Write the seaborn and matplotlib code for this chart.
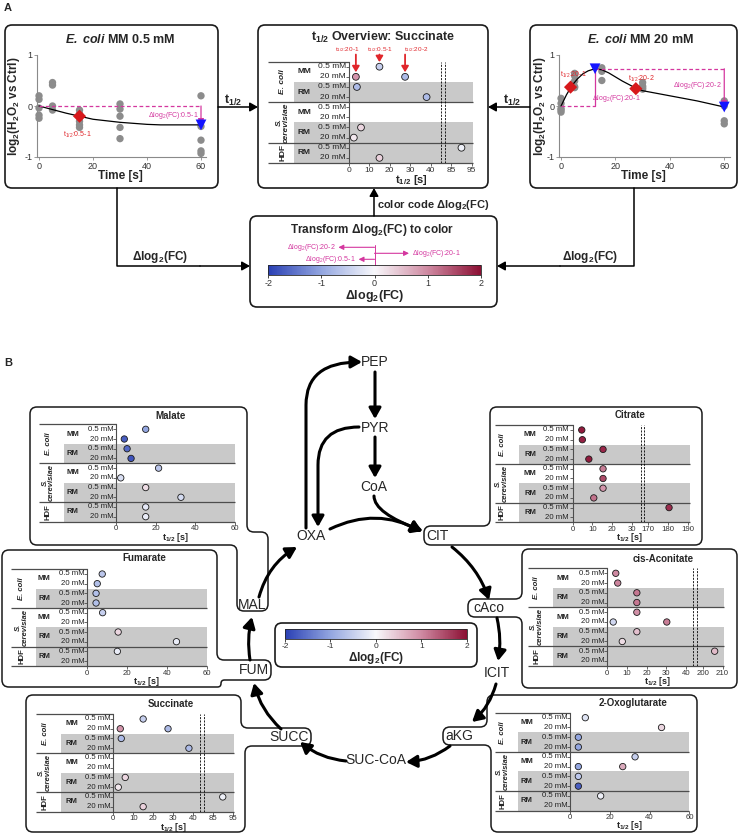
import numpy as np
import pandas as pd
import seaborn as sns
import matplotlib
matplotlib.use("Agg")
import matplotlib.pyplot as plt
from matplotlib.path import Path
from matplotlib.patches import PathPatch, FancyArrowPatch
from matplotlib.colors import LinearSegmentedColormap, Normalize
from matplotlib.cm import ScalarMappable

sns.set_style("white")
plt.rcParams["font.family"] = ["Liberation Sans", "DejaVu Sans"]
plt.rcParams["mathtext.fontset"] = "custom"
plt.rcParams["mathtext.rm"] = "Liberation Sans"
plt.rcParams["mathtext.bf"] = "Liberation Sans:bold"
plt.rcParams["mathtext.it"] = "Liberation Sans:italic"
plt.rcParams["mathtext.bfit"] = "Liberation Sans:italic:bold"
plt.rcParams["mathtext.default"] = "regular"
plt.rcParams["axes.unicode_minus"] = False

# ---------------- data ----------------
# panel A: E. coli MM 0.5 mM time course
t_05 = [0, 0, 0, 0, 0, 5, 5, 5, 5, 15, 15, 15, 15, 15, 30, 30, 30, 30, 30, 60, 60, 60, 60, 60]
y_05 = [0.2, 0.13, -0.04, -0.18, -0.24, 0.46, 0.41, 0.0, -0.08, -0.08, -0.15, -0.3, -0.37, -0.42,
        0.04, -0.06, -0.2, -0.42, -0.64, 0.2, -0.4, -0.67, -0.88, -0.93]
fit_t_05 = [0, 5, 10, 15, 20, 25, 30, 35, 40, 45, 50, 55, 60]
fit_y_05 = [0, -0.07, -0.14, -0.2, -0.26, -0.29, -0.32, -0.34, -0.36, -0.37, -0.37, -0.37, -0.37]
half_t_05 = [15]
half_y_05 = [-0.2]
ext_t_05 = [60]
ext_y_05 = [-0.37]

# panel A: E. coli MM 20 mM time course
t_20 = [0, 0, 0, 0, 0, 5, 5, 5, 5, 5, 15, 15, 15, 30, 30, 30, 30, 60, 60, 60, 60]
y_20 = [0.15, 0.05, -0.05, -0.08, -0.12, 0.64, 0.59, 0.49, 0.38, 0.36, 0.75, 0.68, 0.5,
        0.46, 0.39, 0.36, 0.33, 0.1, 0.0, -0.29, -0.35]
fit_t_20 = [0, 2, 4, 6, 8, 10, 12.5, 15, 17.5, 20, 22.5, 25, 27.5, 30, 35, 40, 45, 50, 55, 60]
fit_y_20 = [0, 0.22, 0.4, 0.53, 0.63, 0.69, 0.73, 0.71, 0.65, 0.57, 0.49, 0.42, 0.35, 0.3,
            0.25, 0.2, 0.15, 0.1, 0.04, -0.02]
half_t_20 = [3.5, 27.5]
half_y_20 = [0.37, 0.34]
ext_t_20 = [12.5, 60]
ext_y_20 = [0.73, -0.02]

# delta log2(FC) arrows drawn over the colour bar
cb_delta = [-0.68, 0.65, -0.3]
cb_delta_lbl = ["20-2", "20-1", "0.5-1"]

# overview rows: 0 Ec MM 0.5, 1 Ec MM 20, 2 Ec RM 0.5, 3 Ec RM 20, 4 Sc MM 0.5,
# 5 Sc MM 20, 6 Sc RM 0.5, 7 Sc RM 20, 8 HDF RM 0.5, 9 HDF RM 20
conc_lbl = ["0.5 mM", "20 mM"] * 5
medium_lbl = ["MM", "RM", "MM", "RM", "RM"]
medium_row = [0.5, 2.5, 4.5, 6.5, 8.5]
org_lbl = ["E. coli", "S.\ncerevisiae", "HDF"]
org_row = [1.5, 5.5, 8.5]

succ_row = [0, 1, 1, 2, 3, 6, 7, 8, 9]
succ_t = [15, 3.5, 27.5, 4, 38, 6, 2.5, 90, 15]
succ_d = [-0.5, 0.9, -0.75, -0.75, -0.75, 0.3, 0.15, -0.1, 0.35]
succ_ann_t = [3.5, 15, 27.5]
succ_ann_row = [1, 0, 1]
succ_ann_lbl = ["20-1", "0.5-1", "20-2"]

mal_row = [0, 1, 2, 3, 4, 5, 6, 7, 8, 9]
mal_t = [15, 4.2, 5.6, 7.6, 21.5, 2.4, 15, 32.8, 15, 15]
mal_d = [-1.0, -1.7, -1.6, -1.8, -0.6, -0.3, 0.25, -0.35, -0.2, -0.15]

fum_row = [0, 1, 2, 3, 4, 6, 7, 8]
fum_t = [7.5, 5, 4.4, 4.4, 7.7, 15.5, 44.8, 15.1]
fum_d = [-0.6, -0.7, -0.7, -0.7, -0.5, 0.3, -0.15, -0.15]

cit_row = [0, 1, 2, 3, 4, 5, 6, 7, 8]
cit_t = [4.7, 5, 15.5, 8.3, 15.5, 15.5, 15.5, 10.8, 180.5]
cit_d = [1.9, 1.85, 1.8, 1.9, 1.1, 1.5, 0.9, 1.2, 1.75]

aco_row = [0, 1, 2, 3, 4, 5, 5, 6, 7, 8]
aco_t = [4.3, 5.3, 15, 15, 15, 3, 30.2, 15, 7.6, 206]
aco_d = [1.0, 1.05, 1.15, 1.15, 0.95, -0.4, 1.1, 0.5, 0.25, 0.55]

akg_row = [0, 1, 2, 3, 4, 5, 5, 6, 7, 8]
akg_t = [7.7, 46, 4.2, 4.2, 32.7, 4.2, 26.5, 4.2, 4.2, 15.4]
akg_d = [-0.25, 0.3, -1.0, -1.0, -0.5, -1.0, 0.7, -0.6, -1.7, -0.1]

# ---------------- styling ----------------
W, H = 740, 834
cmap = LinearSegmentedColormap.from_list(
    "fc", ["#2a40b4", "#93a6e0", "#f8f8fb", "#cf8aa2", "#8c1034"])
RED = "#e0262b"
MAG = "#d4379f"
LINE = "#4d4d4d"
SHADE = "#c9c9c9"

fig = plt.figure(figsize=(W / 100, H / 100), dpi=100)
bg = fig.add_axes([0, 0, 1, 1])
bg.set_xlim(0, W)
bg.set_ylim(H, 0)
bg.axis("off")


def add_ax(x0, y0, x1, y1):
    ax = fig.add_axes([x0 / W, 1 - y1 / H, (x1 - x0) / W, (y1 - y0) / H])
    ax.set_facecolor("none")
    return ax


def rpath(pts, r=7):
    P = np.array(pts, float)
    n = len(P)
    verts, codes = [], []
    for i in range(n):
        p, a, b = P[i], P[i - 1], P[(i + 1) % n]
        da, db = a - p, b - p
        la, lb = np.hypot(*da), np.hypot(*db)
        rr = min(r, la / 2, lb / 2)
        verts += [p + da / la * rr, p, p + db / lb * rr]
        codes += [Path.LINETO if i else Path.MOVETO, Path.CURVE3, Path.CURVE3]
    verts.append(verts[0])
    codes.append(Path.CLOSEPOLY)
    return Path(verts, codes)


def outline(pts, lw=1.1):
    bg.add_patch(PathPatch(rpath(pts), fc="none", ec="#1a1a1a", lw=lw, zorder=1))


def arrow(p0, p1, cs="arc3,rad=0", lw=2.2, ms=8, color="k"):
    bg.add_patch(FancyArrowPatch(p0, p1, arrowstyle="-|>,head_length=0.8,head_width=0.45",
                                 mutation_scale=ms, lw=lw, color=color, connectionstyle=cs,
                                 shrinkA=0, shrinkB=0, zorder=5))


def path_arrow(verts, codes, lw=2.2, ms=8):
    bg.add_patch(FancyArrowPatch(path=Path(verts, codes),
                                 arrowstyle="-|>,head_length=0.8,head_width=0.45",
                                 mutation_scale=ms, lw=lw, color="k", zorder=5))


def overview(g, rows, ts, ds, ticks, knots=None, dashes=(), fs=5.6, s=21):
    top = g["r0"] - 0.5 * g["sp"]
    bot = g["r0"] + 9.5 * g["sp"]
    right = g["x0"] + g["xmax"] * g["sc"]
    ax = add_ax(g["left"], top, right, bot)
    if knots:
        kr, kd = knots
        fwd = lambda x: np.interp(x, kr, kd)
        inv = lambda y: np.interp(y, kd, kr)
        ax.set_xscale("function", functions=(fwd, inv))
    else:
        inv = lambda y: y
    px = lambda p: (p - g["x0"]) / g["sc"]
    xl, xr = px(g["left"]), float(inv(g["xmax"]))

    for a, b in [(1.5, 3.5), (5.5, 7.5), (7.5, 9.5)]:
        ax.fill_between([px(g["shade"]), xr], a, b, color=SHADE, lw=0, zorder=0)
    ax.hlines([3.5, 7.5, 9.5], xl, xr, color=LINE, lw=0.9, zorder=1, clip_on=False)
    ax.hlines(-0.5, xl, 0, color=LINE, lw=0.9, zorder=1, clip_on=False)
    for d in dashes:
        ax.axvline(float(inv(d)), color="k", lw=0.6, ls=(0, (2.5, 1.5)), zorder=1)

    df = pd.DataFrame({"t": ts, "row": rows, "d": ds})
    sns.scatterplot(data=df, x="t", y="row", hue="d", palette=cmap, hue_norm=(-2, 2),
                    s=s, edgecolor="#1a1a1a", linewidth=0.6, legend=False, ax=ax,
                    zorder=4, clip_on=False)
    ax.set(xlabel="", ylabel="")
    ax.set_xlim(xl, xr)
    ax.set_ylim(9.5, -0.5)

    for sp_name in ["top", "right", "bottom"]:
        ax.spines[sp_name].set_visible(False)
    ax.spines["left"].set_position(("data", 0))
    ax.spines["left"].set_bounds(-0.5, 9.5)
    ax.spines["left"].set_color(LINE)
    ax.spines["left"].set_linewidth(0.8)
    ax.set_yticks(range(10))
    ax.set_xticks(ticks)
    ax.set_xticklabels([str(t) for t in ticks])
    ax.tick_params(axis="y", left=True, length=2, width=0.6, color=LINE, labelleft=False)
    ax.tick_params(axis="x", bottom=True, length=2, width=0.6, color=LINE, pad=0.8,
                   labelsize=fs, labelcolor="#333333")

    for i, c in enumerate(conc_lbl):
        ax.text(px(g["conc"]), i, c, ha="right", va="center", fontsize=fs, color="#222222")
    for m, r in zip(medium_lbl, medium_row):
        ax.text(px(g["mm"]), r, m, ha="center", va="center", fontsize=fs, weight="bold")
    for o, r in zip(org_lbl, org_row):
        ax.text(px(g["org"]), r, o, ha="center", va="center", fontsize=fs, weight="bold",
                rotation=90, style="normal" if o == "HDF" else "italic", linespacing=0.9)

    bg.text(*g["title_xy"], g["title"], ha="center", va="center", fontsize=g.get("tfs", 7),
            weight="bold")
    bg.text(*g["xlab_xy"], "t$_\\mathbf{1/2}$ [s]", ha="center", va="center",
            fontsize=g.get("lfs", 6.5), weight="bold")
    return ax


def timecourse(box, t, y, ft, fy, ht, hy, et, ey):
    ax = add_ax(*box)
    sns.scatterplot(x=t, y=y, color="#8c8c8c", s=28, edgecolor="none", ax=ax, zorder=2,
                    clip_on=False)
    sns.lineplot(x=ft, y=fy, color="k", lw=0.9, ax=ax, zorder=3)
    sns.scatterplot(x=ht, y=hy, marker="D", color="#d7191c", s=45, edgecolor="none", ax=ax,
                    zorder=6, clip_on=False)
    sns.scatterplot(x=et, y=ey, marker="v", color="#1414ff", s=60, edgecolor="none", ax=ax,
                    zorder=6, clip_on=False)
    ax.set_xlim(-0.6, 62)
    ax.set_ylim(-1, 1)
    ax.set_xticks([0, 20, 40, 60])
    ax.set_yticks([-1, 0, 1])
    ax.set(xlabel="", ylabel="")
    for s_ in ["top", "right"]:
        ax.spines[s_].set_visible(False)
    for s_ in ["left", "bottom"]:
        ax.spines[s_].set_color("#8a8a8a")
        ax.spines[s_].set_linewidth(0.8)
    ax.tick_params(left=True, bottom=True, length=2, width=0.6, color="#8a8a8a", pad=1.5,
                   labelsize=6.5, labelcolor="#333333")
    return ax


# ---------------- panel A ----------------
bg.text(4, 8, "A", fontsize=8, weight="bold", va="center")
for pts in [[(5, 25), (218, 25), (218, 188), (5, 188)],
            [(258, 25), (488, 25), (488, 188), (258, 188)],
            [(530, 25), (737, 25), (737, 188), (530, 188)],
            [(250, 216), (497, 216), (497, 307), (250, 307)]]:
    outline(pts, lw=1.2)

ax1 = timecourse((37.4, 55, 206.4, 157), t_05, y_05, fit_t_05, fit_y_05,
                 half_t_05, half_y_05, ext_t_05, ext_y_05)
ax1.plot([0, ext_t_05[0]], [0, 0], ls=(0, (3, 2)), color=MAG, lw=0.9, zorder=4)
ax1.annotate("", xy=(ext_t_05[0], ext_y_05[0]), xytext=(ext_t_05[0], 0),
             arrowprops=dict(arrowstyle="-|>,head_length=0.5,head_width=0.25", color=MAG,
                             lw=0.9, mutation_scale=7, shrinkA=0, shrinkB=0))
ax1.text(59, -0.19, "Δlog$_2$(FC):0.5-1", ha="right", va="center", fontsize=5, color=MAG)
ax1.text(half_t_05[0] - 0.8, -0.57, "t$_{1/2}$:0.5-1", ha="center", va="center",
         fontsize=5, color=RED)

ax2 = timecourse((559.4, 55, 729.7, 157), t_20, y_20, fit_t_20, fit_y_20,
                 half_t_20, half_y_20, ext_t_20, ext_y_20)
ax2.plot([0, ext_t_20[0]], [0, 0], ls=(0, (3, 2)), color=MAG, lw=0.9, zorder=4)
ax2.plot([ext_t_20[0], ext_t_20[0]], [0, ext_y_20[0]], color=MAG, lw=0.9, zorder=4)
ax2.plot([ext_t_20[0], ext_t_20[1]], [ext_y_20[0], ext_y_20[0]], ls=(0, (3, 2)), color=MAG,
         lw=0.9, zorder=4)
ax2.annotate("", xy=(ext_t_20[1], ext_y_20[1]), xytext=(ext_t_20[1], ext_y_20[0]),
             arrowprops=dict(arrowstyle="-|>,head_length=0.5,head_width=0.25", color=MAG,
                             lw=0.9, mutation_scale=7, shrinkA=0, shrinkB=0))
ax2.text(20.5, 0.15, "Δlog$_2$(FC):20-1", ha="center", va="center", fontsize=5, color=MAG)
ax2.text(59.2, 0.41, "Δlog$_2$(FC):20-2", ha="right", va="center", fontsize=5, color=MAG)
ax2.text(4.5, 0.6, "t$_{1/2}$:20-1", ha="center", va="center", fontsize=5, color=RED)
ax2.text(29.7, 0.54, "t$_{1/2}$:20-2", ha="center", va="center", fontsize=5, color=RED)

for (x, y), s_ in [((120, 39.5), "$\\mathbfit{E.\\ coli}$ MM 0.5 mM"),
                   ((640, 39.5), "$\\mathbfit{E.\\ coli}$ MM 20 mM")]:
    bg.text(x, y, s_, ha="center", va="center", fontsize=9, weight="bold")
for x in [14, 540.5]:
    bg.text(x, 106.7, "log$_\\mathbf{2}$(H$_\\mathbf{2}$O$_\\mathbf{2}$ vs Ctrl)", rotation=90,
            ha="center", va="center", fontsize=8.5, weight="bold")
for x in [120.3, 643]:
    bg.text(x, 176, "Time [s]", ha="center", va="center", fontsize=8.5, weight="bold")

knots_succ = ([-500, 44, 84, 500], [-500, 44, 49, 465])
g_sa = dict(left=268, x0=348.7, sc=2.05, xmax=60.6, r0=66.7, sp=10.13, shade=294, org=283,
            mm=304, conc=346, title="t$_\\mathbf{1/2}$ Overview: Succinate",
            title_xy=(383.5, 37.5), xlab_xy=(411, 179.5), tfs=9, lfs=8)
axs = overview(g_sa, succ_row, succ_t, succ_d, [0, 10, 20, 30, 40, 85, 95],
               knots=knots_succ, dashes=(45.1, 46.8), fs=6, s=24)
# label positions of the red t1/2 call-outs (in s, left of / right of their arrows)
succ_ann_text_t = [-0.5, 15.2, 33]
for t, tt, r, l in zip(succ_ann_t, succ_ann_text_t, succ_ann_row, succ_ann_lbl):
    axs.annotate("", xy=(t, r - 0.45), xytext=(t, -1.2), annotation_clip=False,
                 arrowprops=dict(arrowstyle="-|>,head_length=0.5,head_width=0.3", color=RED,
                                 lw=1.3, mutation_scale=7, shrinkA=0, shrinkB=0))
    axs.text(tt, -1.68, "t$_{1/2}$:" + l, ha="center", va="center", fontsize=4.6, color=RED,
             clip_on=False)

# connectors in panel A
arrow((218, 107), (258, 107), lw=1.1, ms=6)
arrow((530, 107), (488, 107), lw=1.1, ms=6)
arrow((374, 216), (374, 188), lw=1.1, ms=6)
bg.plot([116.7, 116.7, 200], [188, 266, 266], color="k", lw=1.1)
arrow((200, 266), (250, 266), lw=1.1, ms=6)
bg.plot([634, 634, 560], [188, 266, 266], color="k", lw=1.1)
arrow((560, 266), (497, 266), lw=1.1, ms=6)
bg.text(233, 100, "t$_\\mathbf{1/2}$", ha="center", va="center", fontsize=9, weight="bold")
bg.text(512, 100, "t$_\\mathbf{1/2}$", ha="center", va="center", fontsize=9, weight="bold")
bg.text(377, 205, "color code Δlog$_\\mathbf{2}$(FC)", ha="left", va="center", fontsize=8,
        weight="bold")
bg.text(160, 257, "Δlog$_\\mathbf{2}$(FC)", ha="center", va="center", fontsize=8.5,
        weight="bold")
bg.text(590, 257, "Δlog$_\\mathbf{2}$(FC)", ha="center", va="center", fontsize=8.5,
        weight="bold")
bg.text(372, 229.5, "Transform Δlog$_\\mathbf{2}$(FC) to color", ha="center", va="center",
        fontsize=8.5, weight="bold")


def colorbar(box, fs_tick, fs_lab, pad):
    cax = add_ax(*box)
    cb = fig.colorbar(ScalarMappable(norm=Normalize(-2, 2), cmap=cmap), cax=cax,
                      orientation="horizontal")
    cb.set_ticks([-2, -1, 0, 1, 2])
    cb.outline.set_linewidth(0.6)
    cax.tick_params(length=2, width=0.6, labelsize=fs_tick, pad=1, labelcolor="#333333")
    cb.set_label("Δlog$_\\mathbf{2}$(FC)", fontsize=fs_lab, weight="bold", labelpad=pad)
    return cax


cax_a = colorbar((268.3, 265, 480.7, 275), 6.5, 9, 0)
tr = cax_a.get_xaxis_transform()
cax_a.plot([0, 0], [1.0, 3.0], color=MAG, lw=0.7, transform=tr, clip_on=False)
for v, l, fy in zip(cb_delta, cb_delta_lbl, [2.77, 2.17, 1.57]):
    cax_a.annotate("", xy=(v, fy), xytext=(0, fy), xycoords=tr, textcoords=tr,
                   annotation_clip=False,
                   arrowprops=dict(arrowstyle="-|>,head_length=0.5,head_width=0.25",
                                   color=MAG, lw=0.8, mutation_scale=6, shrinkA=0, shrinkB=0))
    cax_a.text(v + (0.06 if v > 0 else -0.06), fy, "Δlog$_2$(FC):" + l, transform=tr,
               ha="left" if v > 0 else "right", va="center", fontsize=5, color=MAG,
               clip_on=False)

# ---------------- panel B ----------------
bg.text(4, 363, "B", fontsize=8, weight="bold", va="center")
outline([(30, 407), (247, 407), (247, 532), (268, 532), (268, 611), (237, 611), (237, 545),
         (30, 545)])
outline([(490, 407), (702, 407), (702, 545), (424, 545), (424, 526), (490, 526)])
outline([(2, 550), (217, 550), (217, 660), (271, 660), (271, 680), (221, 680), (221, 687),
         (2, 687)])
outline([(522, 549), (737, 549), (737, 688), (522, 688), (522, 617), (468, 617), (468, 599),
         (522, 599)])
outline([(26, 695), (241, 695), (241, 728), (311, 728), (311, 746), (245, 746), (245, 832),
         (26, 832)])
outline([(487, 695), (697, 695), (697, 832), (491, 832), (491, 745), (443, 745), (443, 727),
         (487, 727)])
outline([(275, 623), (477, 623), (477, 667), (275, 667)], lw=1.2)

overview(dict(left=39.3, x0=116, sc=1.98, xmax=60, r0=429.3, sp=9.71, shade=64, org=48.5,
              mm=72.7, conc=113.3, title="Malate", title_xy=(171, 416),
              xlab_xy=(175.5, 537)),
         mal_row, mal_t, mal_d, [0, 20, 40, 60])
overview(dict(left=11, x0=87.3, sc=1.99, xmax=60, r0=574, sp=9.67, shade=35.7, org=21.7,
              mm=44.3, conc=85, title="Fumarate", title_xy=(144, 558.3),
              xlab_xy=(147, 682)),
         fum_row, fum_t, fum_d, [0, 20, 40, 60])
overview(dict(left=36, x0=113.3, sc=1.99, xmax=60.5, r0=719, sp=9.74, shade=60.7, org=45,
              mm=71.7, conc=111, title="Succinate", title_xy=(170.7, 704.3),
              xlab_xy=(173.5, 828)),
         succ_row, succ_t, succ_d, [0, 10, 20, 30, 40, 85, 95], knots=knots_succ,
         dashes=(43.6, 45.7))
overview(dict(left=495, x0=572.5, sc=1.97, xmax=59.5, r0=430, sp=9.7, shade=519.3, org=502,
              mm=530, conc=569, title="Citrate", title_xy=(630, 415),
              xlab_xy=(630, 538)),
         cit_row, cit_t, cit_d, [0, 10, 20, 30, 170, 180, 190],
         knots=([-500, 34, 166, 500], [-500, 34, 34.5, 368.5]), dashes=(34.9, 36.5))
overview(dict(left=528.3, x0=607.3, sc=1.97, xmax=59, r0=573.3, sp=9.74, shade=552.7,
              org=537, mm=562.7, conc=605, title="cis-Aconitate",
              title_xy=(663.3, 559.3), xlab_xy=(658, 682)),
         aco_row, aco_t, aco_d, [0, 10, 20, 30, 40, 200, 210],
         knots=([-500, 41, 194, 500], [-500, 41, 42.5, 348.5]), dashes=(43.6, 45.7))
overview(dict(left=495, x0=570, sc=1.99, xmax=60, r0=717.7, sp=9.78, shade=518.3, org=503,
              mm=526.7, conc=567.5, title="2-Oxoglutarate", title_xy=(632.7, 703.3),
              xlab_xy=(630, 826)),
         akg_row, akg_t, akg_d, [0, 20, 40, 60])

colorbar((285, 629, 466.7, 639.3), 6, 8.5, 0)

# pathway
node_lbl = ["PEP", "PYR", "CoA", "OXA", "CIT", "cAco", "ICIT", "aKG", "SUC-CoA", "SUCC",
            "FUM", "MAL"]
node_xy = [(375, 362), (375, 428), (374, 487), (311, 536), (437.5, 536), (489, 608),
           (497, 673), (459, 736), (376, 760), (289.5, 737), (254, 670), (252.5, 605)]
for l, (x, y) in zip(node_lbl, node_xy):
    bg.text(x, y, l, ha="center", va="center", fontsize=10, zorder=6)

arrow((375, 372), (375, 419))
arrow((375, 437), (375, 478))
arrow((374, 496), (423, 531), cs="angle3,angleA=90,angleB=-20")
arrow((330, 529), (422, 532), cs="arc3,rad=-0.26")
arrow((452, 547), (489, 600), cs="arc3,rad=-0.15")
arrow((497, 618), (498, 661), cs="arc3,rad=-0.1")
arrow((496, 684), (472, 722), cs="arc3,rad=-0.15")
arrow((450, 746), (406, 762), cs="arc3,rad=-0.15")
arrow((346, 761), (300, 742), cs="arc3,rad=-0.15")
arrow((281, 729), (254, 683), cs="arc3,rad=-0.15")
arrow((250, 660), (252, 617), cs="arc3,rad=-0.1")
arrow((259, 597), (297, 547), cs="arc3,rad=-0.2")
path_arrow([(306, 528), (306, 405), (306, 362), (362, 362)],
           [Path.MOVETO, Path.LINETO, Path.CURVE3, Path.CURVE3])
path_arrow([(359, 427), (318, 427), (318, 465), (318, 527)],
           [Path.MOVETO, Path.CURVE3, Path.CURVE3, Path.LINETO])

fig.savefig("out.png", dpi=100)
